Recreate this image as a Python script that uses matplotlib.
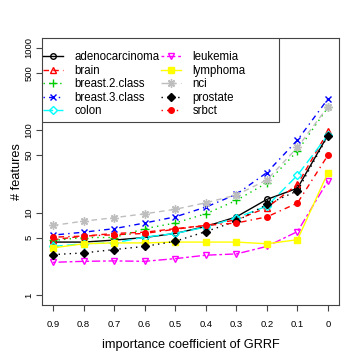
import matplotlib
matplotlib.use("Agg")
import matplotlib.pyplot as plt
from matplotlib.patches import Rectangle
import numpy as np

plt.rcParams['font.family'] = ['Liberation Sans', 'DejaVu Sans']

coef = [0.9, 0.8, 0.7, 0.6, 0.5, 0.4, 0.3, 0.2, 0.1, 0.0]
coef_labels = ["0.9", "0.8", "0.7", "0.6", "0.5", "0.4", "0.3", "0.2", "0.1", "0"]

adenocarcinoma = [4.4, 4.4, 4.65, 5.0, 5.6, 6.8, 8.9, 14.5, 19.8, 88]
brain = [4.7, 5.2, 5.6, 5.8, 6.4, 7.0, 8.2, 11.5, 22, 97]
breast_2_class = [4.6, 5.0, 5.0, 6.4, 7.5, 9.7, 14.1, 23, 56, 190]
breast_3_class = [5.35, 5.8, 6.4, 7.5, 8.9, 11.7, 16.7, 30.7, 76, 241]
colon = [3.9, 4.2, 4.3, 5.05, 5.6, 6.7, 8.7, 12, 28.5, 88]
leukemia = [2.5, 2.57, 2.6, 2.57, 2.77, 3.05, 3.16, 3.9, 5.9, 24.4]
lymphoma = [3.74, 4.2, 4.3, 4.3, 4.4, 4.4, 4.4, 4.2, 4.7, 30.7]
nci = [7.0, 7.9, 8.7, 9.7, 11.0, 13.2, 16.4, 25, 62, 194]
prostate = [3.1, 3.25, 3.57, 3.9, 4.5, 5.9, 7.9, 12.6, 18.4, 86]
srbct = [5.05, 5.2, 5.4, 5.6, 6.3, 7.0, 7.5, 8.9, 13.1, 50]

series = [
    ("adenocarcinoma", adenocarcinoma),
    ("brain", brain),
    ("breast.2.class", breast_2_class),
    ("breast.3.class", breast_3_class),
    ("colon", colon),
    ("leukemia", leukemia),
    ("lymphoma", lymphoma),
    ("nci", nci),
    ("prostate", prostate),
    ("srbct", srbct),
]

styles = [
    dict(color="black", ls="-", marker="o", mfc="none", ms=4),
    dict(color="#FF0000", ls=(0, (4, 3)), marker="^", mfc="none", ms=4.5),
    dict(color="#00CD00", ls=(0, (1, 3)), marker="+", ms=6),
    dict(color="#0000FF", ls=(0, (1, 3, 4, 3)), marker="x", ms=4.5),
    dict(color="#00FFFF", ls=(0, (7, 3)), marker="D", mfc="none", ms=3.8),
    dict(color="#FF00FF", ls=(0, (2, 2, 6, 2)), marker="v", mfc="none", ms=4.5),
    dict(color="#FFFF00", ls="-", marker="s", ms=4),
    dict(color="#BEBEBE", ls=(0, (4, 3)), marker=(8, 2, 0), ms=6),
    dict(color="black", ls=(0, (1, 3)), marker="D", ms=4),
    dict(color="#FF0000", ls=(0, (1, 3, 4, 3)), marker="o", ms=4),
]

W = H = 360.0
L, R, T, B = 42, 339, 38, 305
fig = plt.figure(figsize=(3.6, 3.6), dpi=100)
ax = fig.add_axes([L/W, 1-B/H, (R-L)/W, (B-T)/H])

x = np.arange(len(coef))
for (name, vals), st in zip(series, styles):
    ax.plot(x, vals, label=name, lw=1, mew=1, **st)

ax.set_yscale("log")
ax.set_ylim(10**-0.12, 10**3.12)
ax.set_xlim(-0.36, 9.36)
ax.set_xticks(x)
ax.set_xticklabels(coef_labels, fontsize=6.8)
yt = [1, 5, 10, 50, 100, 500, 1000]
ax.set_yticks(yt)
ax.set_yticklabels([str(v) for v in yt], fontsize=6.8, rotation=90, va="center")
ax.yaxis.set_minor_locator(matplotlib.ticker.NullLocator())
ax.tick_params(axis="x", length=4, width=0.8, color="#444444", pad=7)
ax.tick_params(axis="y", length=4, width=0.8, color="#444444", pad=2)
for s in ax.spines.values():
    s.set_color("#444444")
    s.set_linewidth(0.8)

ax.set_xlabel("importance coefficient of GRRF", fontsize=9.2, labelpad=7)
ax.set_ylabel("# features", fontsize=9.2, labelpad=1.5)

def px2ax(px, py):
    return ((px - L) / (R - L), (B - py) / (B - T))

# legend box
x0, y1 = px2ax(42, 38)
x1, y0 = px2ax(279, 122)
ax.add_patch(Rectangle((x0, y0), x1 - x0, y1 - y0, transform=ax.transAxes,
                       facecolor="white", edgecolor="#444444", lw=0.8, zorder=5))

ax_anchor = px2ax(43, 51)
leg = ax.legend(ncol=2, loc="upper left", bbox_to_anchor=ax_anchor, borderaxespad=0,
                frameon=False, fontsize=8.3,
                handlelength=1.75, handletextpad=1.0, columnspacing=0.1,
                labelspacing=0.14, borderpad=0.0)
leg.set_zorder(6)

fig.savefig("out.png", dpi=100)
